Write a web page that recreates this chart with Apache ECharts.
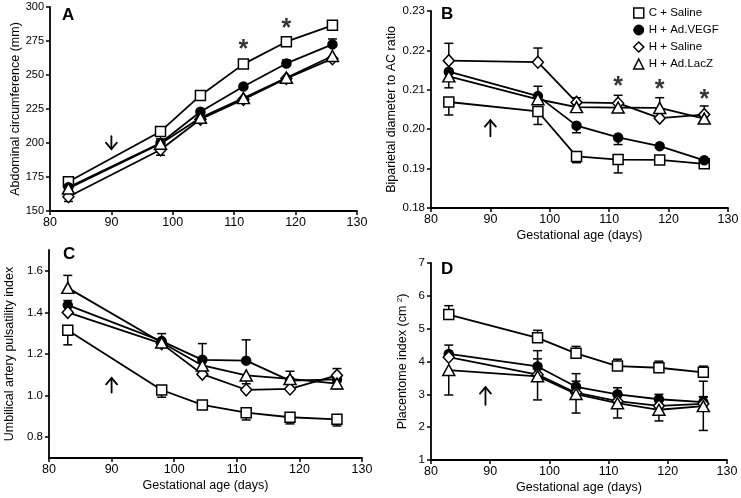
<!DOCTYPE html>
<html><head><meta charset="utf-8">
<script src="https://cdn.jsdelivr.net/npm/echarts@6/dist/echarts.min.js"></script>
<style>html,body{margin:0;padding:0;background:#fff}#c{width:741px;height:498px}</style>
</head><body><div id="c"></div>
<script>
// ---------- data ----------
const ages = [83, 98, 104.5, 111.5, 118.5, 126];
const groups = ['C + Saline', 'H + Ad.VEGF', 'H + Saline', 'H + Ad.LacZ'];

// Panel A: abdominal circumference (mm)
const acCSaline = [171.5, 208.5, 235, 258, 274.5, 286.5];
const acVEGF    = [167.5, 200, 223, 241.5, 258.5, 272.5];
const acHSaline = [160.5, 195, 217.5, 232, 247.5, 262];
const acLacZ    = [166.5, 199.5, 218.5, 233, 248, 264];
const acCSalineErr = [[0,0],[0,2],[0,0],[0,0],[0,0],[0,0]];
const acVEGFErr    = [[0,0],[0,0],[0,0],[0,0],[0,2.5],[0,4]];
const acHSalineErr = [[3.5,0],[4,0],[0,0],[0,0],[0,0],[0,0]];
const acLacZErr    = [[0,0],[0,3.5],[0,0],[0,0],[0,0],[2.5,0]];

// Panel B: biparietal diameter to AC ratio
const bpCSaline = [0.2069, 0.2045, 0.1931, 0.1923, 0.1922, 0.1912];
const bpVEGF    = [0.2146, 0.2084, 0.2009, 0.1979, 0.1957, 0.1921];
const bpHSaline = [0.2174, 0.2170, 0.2068, 0.2066, 0.2028, 0.2037];
const bpLacZ    = [0.2134, 0.2076, 0.2056, 0.2055, 0.2054, 0.2027];
const bpCSalineErr = [[0.0033,0],[0.0033,0],[0.0016,0],[0.0034,0],[0,0],[0,0]];
const bpVEGFErr    = [[0,0],[0,0.0025],[0.0018,0],[0.0018,0],[0,0],[0,0]];
const bpHSalineErr = [[0,0.0044],[0,0.0036],[0,0.0012],[0,0.0020],[0,0],[0,0.0022]];
const bpLacZErr    = [[0.0029,0],[0,0],[0,0],[0,0],[0,0.0026],[0,0]];

// Panel C: umbilical artery pulsatility index
const uaCSaline = [1.314, 1.027, 0.955, 0.918, 0.896, 0.886];
const uaVEGF    = [1.435, 1.262, 1.172, 1.168, 1.072, 1.078];
const uaHSaline = [1.400, 1.250, 1.103, 1.028, 1.032, 1.097];
const uaLacZ    = [1.518, 1.255, 1.145, 1.097, 1.080, 1.058];
const uaCSalineErr = [[0.07,0],[0.035,0],[0,0],[0.035,0],[0.032,0],[0.032,0]];
const uaVEGFErr    = [[0,0.022],[0,0.036],[0,0.078],[0,0.10],[0,0.045],[0,0]];
const uaHSalineErr = [[0,0],[0,0],[0,0],[0,0],[0,0],[0,0.033]];
const uaLacZErr    = [[0,0.06],[0,0],[0,0],[0.04,0],[0,0],[0.025,0]];

// Panel D: placentome index (cm2)
const piCSaline = [5.43, 4.72, 4.25, 3.86, 3.81, 3.67];
const piVEGF    = [4.23, 3.85, 3.23, 3.00, 2.85, 2.76];
const piHSaline = [4.13, 3.60, 3.05, 2.79, 2.65, 2.71];
const piLacZ    = [3.74, 3.55, 3.01, 2.73, 2.53, 2.64];
const piCSalineErr = [[0,0.27],[0,0.23],[0,0.21],[0,0.21],[0,0.20],[0,0.19]];
const piVEGFErr    = [[0,0.27],[0,0.48],[0,0.40],[0,0.20],[0,0.15],[0,0.17]];
const piHSalineErr = [[0,0],[0,0.48],[0,0.35],[0,0.16],[0,0.14],[0,0.2]];
const piLacZErr    = [[0.76,0],[0.72,0],[0.58,0],[0.45,0],[0.34,0],[0.74,0.76]];

// annotations: asterisks [x, y]; arrows [x, tailY, headY]
const starsA = [[111.5, 268], [118.5, 284]];
const starsB = [[111.5, 0.2108], [118.5, 0.2100], [126, 0.2074]];
const arrowA = [[90, 205, 195.5]];
const arrowB = [[90, 0.1982, 0.2023]];
const arrowC = [[90, 1.015, 1.085]];
const arrowD = [[89.2, 2.68, 3.22]];

// ---------- chart ----------
const FONT = 'Liberation Sans, Arial, sans-serif';
const panels = [
  {vals:[acCSaline, acVEGF, acHSaline, acLacZ], errs:[acCSalineErr, acVEGFErr, acHSalineErr, acLacZErr]},
  {vals:[bpCSaline, bpVEGF, bpHSaline, bpLacZ], errs:[bpCSalineErr, bpVEGFErr, bpHSalineErr, bpLacZErr]},
  {vals:[uaCSaline, uaVEGF, uaHSaline, uaLacZ], errs:[uaCSalineErr, uaVEGFErr, uaHSalineErr, uaLacZErr]},
  {vals:[piCSaline, piVEGF, piHSaline, piLacZ], errs:[piCSalineErr, piVEGFErr, piHSalineErr, piLacZErr]}
];
const symbols = [
  {symbol:'rect', size:10, fill:'#fff'},
  {symbol:'circle', size:9, fill:'#000'},
  {symbol:'diamond', size:[11,12], fill:'#fff'},
  {symbol:'triangle', size:[12,11], fill:'#fff'}
];

const axisCommon = {
  axisLine:{show:true, onZero:false, lineStyle:{color:'#000', width:1.8}},
  axisTick:{show:true, length:4, lineStyle:{color:'#000', width:1.5}},
  splitLine:{show:false},
  axisLabel:{color:'#000', fontFamily:FONT, fontSize:12}
};
const grids = [
  {left:50, top:7, width:307, height:204},
  {left:431, top:11, width:297, height:197},
  {left:49, top:250, width:313, height:208},
  {left:431, top:263, width:296, height:197}
].map(g => Object.assign(g, {outerBoundsMode:'none', containLabel:false}));

const xAxes = grids.map((g, i) => Object.assign({}, axisCommon, {
  type:'value', gridIndex:i, min:80, max:130, interval:10,
  axisLabel:Object.assign({}, axisCommon.axisLabel, {margin:5, fontSize:12.5}),
  name: i === 0 ? '' : 'Gestational age (days)', nameLocation:'middle', nameGap:21,
  nameTextStyle:{color:'#000', fontFamily:FONT, fontSize:12.5}
}));
const yName = {color:'#000', fontFamily:FONT, fontSize:12.5};
const yAxes = [
  Object.assign({}, axisCommon, {type:'value', gridIndex:0, min:150, max:300, interval:25,
    axisLabel:Object.assign({}, axisCommon.axisLabel, {margin:6, fontSize:11}),
    name:'Abdominal circumference (mm)', nameLocation:'middle', nameGap:28, nameTextStyle:yName}),
  Object.assign({}, axisCommon, {type:'value', gridIndex:1, min:0.18, max:0.23, interval:0.01,
    axisLabel:Object.assign({}, axisCommon.axisLabel, {margin:6, fontSize:11.5, formatter:v => v.toFixed(2)}),
    name:'Biparietal diameter to AC ratio', nameLocation:'middle', nameGap:33, nameTextStyle:yName}),
  Object.assign({}, axisCommon, {type:'value', gridIndex:2, min:0.7, max:1.7,
    axisTick:Object.assign({}, axisCommon.axisTick, {customValues:[0.8,1.0,1.2,1.4,1.6]}),
    axisLabel:Object.assign({}, axisCommon.axisLabel, {margin:6, fontSize:11.5, customValues:[0.8,1.0,1.2,1.4,1.6], formatter:v => v.toFixed(1)}),
    name:'Umbilical artery pulsatility index', nameLocation:'middle', nameGap:33, nameTextStyle:yName}),
  Object.assign({}, axisCommon, {type:'value', gridIndex:3, min:1, max:7, interval:1,
    axisLabel:Object.assign({}, axisCommon.axisLabel, {margin:6, fontSize:11.5}),
    name:'Placentome index (cm {sup|2})', nameLocation:'middle', nameGap:21,
    nameTextStyle:Object.assign({}, yName, {rich:{sup:{fontSize:8, fontFamily:FONT, color:'#000', verticalAlign:'top', padding:[0,0,6,0]}}})})
];

function errRender(params, api) {
  const x = api.value(0), y = api.value(1), lo = api.value(2), hi = api.value(3);
  const p0 = api.coord([x, y - lo]), p1 = api.coord([x, y + hi]);
  const st = {stroke:'#000', lineWidth:1.5};
  const ch = [{type:'line', shape:{x1:p0[0], y1:p0[1], x2:p1[0], y2:p1[1]}, style:st}];
  if (lo > 0) ch.push({type:'line', shape:{x1:p0[0]-4.5, y1:p0[1], x2:p0[0]+4.5, y2:p0[1]}, style:st});
  if (hi > 0) ch.push({type:'line', shape:{x1:p1[0]-4.5, y1:p1[1], x2:p1[0]+4.5, y2:p1[1]}, style:st});
  return {type:'group', children:ch};
}
function arrowRender(params, api) {
  const x = api.value(0);
  const t = api.coord([x, api.value(1)]), h = api.coord([x, api.value(2)]);
  const dir = h[1] < t[1] ? 1 : -1; // head above tail -> head opens downward
  const st = {stroke:'#000', lineWidth:1.8, lineCap:'round', lineJoin:'miter'};
  return {type:'group', children:[
    {type:'line', shape:{x1:t[0], y1:t[1], x2:h[0], y2:h[1]}, style:st},
    {type:'polyline', shape:{points:[[h[0]-5.5, h[1]+dir*6.5],[h[0], h[1]],[h[0]+5.5, h[1]+dir*6.5]]}, style:Object.assign({fill:null}, st)}
  ]};
}

const series = [];
panels.forEach((p, pi) => {
  p.vals.forEach((vals, gi) => {
    series.push({
      type:'custom', name:groups[gi], xAxisIndex:pi, yAxisIndex:pi, z:1,
      renderItem:errRender, encode:{x:0, y:1}, silent:true,
      data: ages.map((a, k) => [a, vals[k], p.errs[gi][k][0], p.errs[gi][k][1]])
    });
  });
  p.vals.forEach((vals, gi) => {
    const s = symbols[gi];
    series.push({
      type:'line', name:groups[gi], xAxisIndex:pi, yAxisIndex:pi, z:2 + gi * 0.1,
      symbol:s.symbol, symbolSize:s.size, showAllSymbol:true,
      lineStyle:{color:'#000', width:1.8},
      itemStyle:{color:s.fill, borderColor:'#000', borderWidth:1.5},
      emphasis:{disabled:true}, animation:false,
      data: ages.map((a, k) => [a, vals[k]])
    });
  });
});

const starStyle = {type:'scatter', symbol:'circle', symbolSize:1, itemStyle:{color:'rgba(0,0,0,0)'},
  label:{show:true, position:'inside', formatter:'*', color:'#000', fontFamily:FONT, fontSize:25, fontWeight:'bold'}, z:5, silent:true};
series.push(Object.assign({}, starStyle, {xAxisIndex:0, yAxisIndex:0, data:starsA}));
series.push(Object.assign({}, starStyle, {xAxisIndex:1, yAxisIndex:1, data:starsB}));

[arrowA, arrowB, arrowC, arrowD].forEach((arr, i) => {
  series.push({type:'custom', xAxisIndex:i, yAxisIndex:i, z:5, silent:true,
    renderItem:arrowRender, encode:{x:0, y:[1, 2]}, data:arr});
});

const legendIcons = [
  {name:groups[0], icon:'rect', itemStyle:{color:'#fff', borderColor:'#000', borderWidth:1.5}},
  {name:groups[1], icon:'circle', itemStyle:{color:'#000', borderColor:'#000', borderWidth:1}},
  {name:groups[2], icon:'diamond', itemStyle:{color:'#fff', borderColor:'#000', borderWidth:1.5}},
  {name:groups[3], icon:'triangle', itemStyle:{color:'#fff', borderColor:'#000', borderWidth:1.5}}
];

const titleStyle = {color:'#000', fontFamily:FONT, fontSize:17, fontWeight:'bold'};
const option = {
  backgroundColor:'#fff',
  animation:false,
  textStyle:{fontFamily:FONT},
  title:[
    {text:'A', left:57, top:2, textStyle:titleStyle},
    {text:'B', left:436, top:1, textStyle:titleStyle},
    {text:'C', left:58, top:241, textStyle:titleStyle},
    {text:'D', left:436, top:256, textStyle:titleStyle}
  ],
  legend:{orient:'vertical', left:628, top:2, itemWidth:10, itemHeight:10, itemGap:5,
    textStyle:{color:'#000', fontFamily:FONT, fontSize:11.5}, data:legendIcons, selectedMode:false},
  grid:grids, xAxis:xAxes, yAxis:yAxes, series:series
};
const chart = echarts.init(document.getElementById('c'), null, {renderer:'canvas'});
chart.setOption(option);
</script></body></html>
